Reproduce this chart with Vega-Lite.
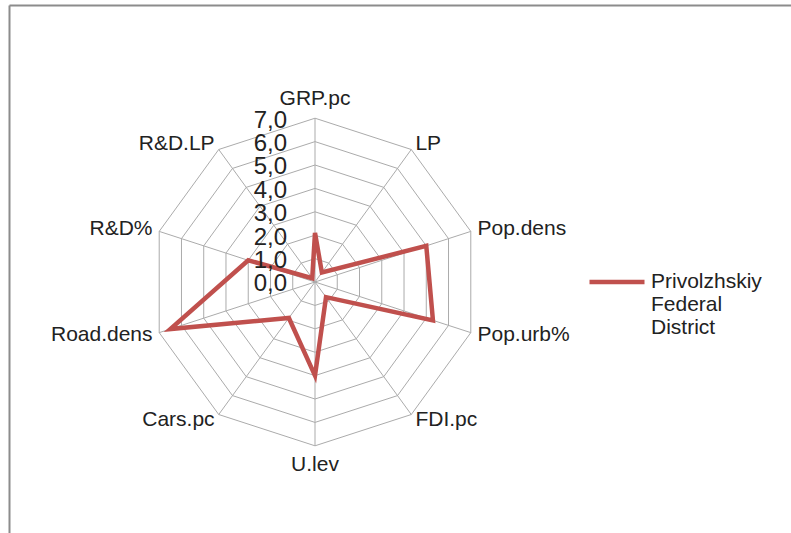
{
  "$schema": "https://vega.github.io/schema/vega-lite/v6.json",
  "width": 782,
  "height": 528,
  "autosize": {"type": "none"},
  "padding": {"left": 9, "top": 5, "right": 0, "bottom": 0},
  "background": "white",
  "config": {"view": {"stroke": null}, "font": "Liberation Sans"},
  "datasets": {
    "main": [
      {"axis": "GRP.pc", "i": 0, "value": 2.1, "series": "Privolzhskiy Federal District"},
      {"axis": "LP", "i": 1, "value": 0.5, "series": "Privolzhskiy Federal District"},
      {"axis": "Pop.dens", "i": 2, "value": 5.0, "series": "Privolzhskiy Federal District"},
      {"axis": "Pop.urb%", "i": 3, "value": 5.3, "series": "Privolzhskiy Federal District"},
      {"axis": "FDI.pc", "i": 4, "value": 0.8, "series": "Privolzhskiy Federal District"},
      {"axis": "U.lev", "i": 5, "value": 4.0, "series": "Privolzhskiy Federal District"},
      {"axis": "Cars.pc", "i": 6, "value": 1.9, "series": "Privolzhskiy Federal District"},
      {"axis": "Road.dens", "i": 7, "value": 6.5, "series": "Privolzhskiy Federal District"},
      {"axis": "R&D%", "i": 8, "value": 3.0, "series": "Privolzhskiy Federal District"},
      {"axis": "R&D.LP", "i": 9, "value": 0.2, "series": "Privolzhskiy Federal District"}
    ],
    "ticks": [
      {"v": 0, "label": "0,0"}, {"v": 1, "label": "1,0"}, {"v": 2, "label": "2,0"}, {"v": 3, "label": "3,0"},
      {"v": 4, "label": "4,0"}, {"v": 5, "label": "5,0"}, {"v": 6, "label": "6,0"}, {"v": 7, "label": "7,0"}
    ],
    "rings": [
      {"level": 1, "i": 0}, {"level": 1, "i": 1}, {"level": 1, "i": 2}, {"level": 1, "i": 3}, {"level": 1, "i": 4}, {"level": 1, "i": 5}, {"level": 1, "i": 6}, {"level": 1, "i": 7}, {"level": 1, "i": 8}, {"level": 1, "i": 9},
      {"level": 2, "i": 0}, {"level": 2, "i": 1}, {"level": 2, "i": 2}, {"level": 2, "i": 3}, {"level": 2, "i": 4}, {"level": 2, "i": 5}, {"level": 2, "i": 6}, {"level": 2, "i": 7}, {"level": 2, "i": 8}, {"level": 2, "i": 9},
      {"level": 3, "i": 0}, {"level": 3, "i": 1}, {"level": 3, "i": 2}, {"level": 3, "i": 3}, {"level": 3, "i": 4}, {"level": 3, "i": 5}, {"level": 3, "i": 6}, {"level": 3, "i": 7}, {"level": 3, "i": 8}, {"level": 3, "i": 9},
      {"level": 4, "i": 0}, {"level": 4, "i": 1}, {"level": 4, "i": 2}, {"level": 4, "i": 3}, {"level": 4, "i": 4}, {"level": 4, "i": 5}, {"level": 4, "i": 6}, {"level": 4, "i": 7}, {"level": 4, "i": 8}, {"level": 4, "i": 9},
      {"level": 5, "i": 0}, {"level": 5, "i": 1}, {"level": 5, "i": 2}, {"level": 5, "i": 3}, {"level": 5, "i": 4}, {"level": 5, "i": 5}, {"level": 5, "i": 6}, {"level": 5, "i": 7}, {"level": 5, "i": 8}, {"level": 5, "i": 9},
      {"level": 6, "i": 0}, {"level": 6, "i": 1}, {"level": 6, "i": 2}, {"level": 6, "i": 3}, {"level": 6, "i": 4}, {"level": 6, "i": 5}, {"level": 6, "i": 6}, {"level": 6, "i": 7}, {"level": 6, "i": 8}, {"level": 6, "i": 9},
      {"level": 7, "i": 0}, {"level": 7, "i": 1}, {"level": 7, "i": 2}, {"level": 7, "i": 3}, {"level": 7, "i": 4}, {"level": 7, "i": 5}, {"level": 7, "i": 6}, {"level": 7, "i": 7}, {"level": 7, "i": 8}, {"level": 7, "i": 9}
    ]
  },
  "encoding": {
    "x": {"field": "px", "type": "quantitative", "scale": {"domain": [-13.077, 20.342], "nice": false, "zero": false},
      "axis": {"orient": "top", "domain": true, "domainColor": "#8c8c8c", "domainWidth": 2, "ticks": false, "labels": false, "grid": false, "title": null}},
    "y": {"field": "py", "type": "quantitative", "scale": {"domain": [-10.726, 11.838], "nice": false, "zero": false},
      "axis": {"orient": "left", "domain": true, "domainColor": "#8c8c8c", "domainWidth": 2, "ticks": false, "labels": false, "grid": false, "title": null}}
  },
  "layer": [
    {
      "data": {"name": "rings"},
      "transform": [
        {"calculate": "datum.i * PI / 5", "as": "a"},
        {"calculate": "datum.level * sin(datum.a)", "as": "px"},
        {"calculate": "datum.level * cos(datum.a)", "as": "py"}
      ],
      "mark": {"type": "line", "interpolate": "linear-closed", "stroke": "#ababab", "strokeWidth": 1},
      "encoding": {"detail": {"field": "level"}, "order": {"field": "i", "type": "quantitative"}}
    },
    {
      "data": {"name": "rings"},
      "transform": [
        {"filter": "datum.level == 7"},
        {"calculate": "datum.i * PI / 5", "as": "a"},
        {"calculate": "datum.level * sin(datum.a)", "as": "px"},
        {"calculate": "datum.level * cos(datum.a)", "as": "py"}
      ],
      "mark": {"type": "rule", "stroke": "#ababab", "strokeWidth": 1},
      "encoding": {"x2": {"datum": 0}, "y2": {"datum": 0}}
    },
    {
      "data": {"name": "main"},
      "transform": [
        {"calculate": "datum.i * PI / 5", "as": "a"},
        {"calculate": "datum.value * sin(datum.a)", "as": "px"},
        {"calculate": "datum.value * cos(datum.a)", "as": "py"}
      ],
      "mark": {"type": "line", "interpolate": "linear-closed", "strokeWidth": 4.5, "strokeJoin": "miter"},
      "encoding": {
        "order": {"field": "i", "type": "quantitative"},
        "color": {"field": "series", "type": "nominal", "scale": {"range": ["#C0504D"]},
          "legend": {"orient": "none", "legendX": 578, "legendY": 247, "title": null, "symbolType": "stroke", "symbolSize": 3025, "symbolStrokeWidth": 4.5,
            "labelFont": "Liberation Sans", "labelFontSize": 21, "labelColor": "#222222", "labelExpr": "split(datum.label, ' ')", "labelOffset": 4, "labelLimit": 300, "padding": 0}}
      }
    },
    {
      "data": {"name": "ticks"},
      "transform": [
        {"calculate": "0", "as": "px"},
        {"calculate": "datum.v", "as": "py"}
      ],
      "mark": {"type": "text", "align": "right", "baseline": "middle", "dx": -28, "dy": 2.4, "fontSize": 24, "font": "Liberation Sans", "color": "#222222"},
      "encoding": {"text": {"field": "label"}}
    },
    {
      "data": {"name": "main"},
      "transform": [
        {"filter": "datum.i == 0 || datum.i == 5"},
        {"calculate": "datum.i * PI / 5", "as": "a"},
        {"calculate": "7.8 * sin(datum.a)", "as": "px"},
        {"calculate": "7.8 * cos(datum.a)", "as": "py"}
      ],
      "mark": {"type": "text", "align": "center", "baseline": "middle", "fontSize": 21, "font": "Liberation Sans", "color": "#222222"},
      "encoding": {"text": {"field": "axis"}}
    },
    {
      "data": {"name": "main"},
      "transform": [
        {"filter": "datum.i >= 1 && datum.i <= 4"},
        {"calculate": "datum.i * PI / 5", "as": "a"},
        {"calculate": "7.3 * sin(datum.a)", "as": "px"},
        {"calculate": "7.3 * cos(datum.a)", "as": "py"}
      ],
      "mark": {"type": "text", "align": "left", "baseline": "middle", "fontSize": 21, "font": "Liberation Sans", "color": "#222222"},
      "encoding": {"text": {"field": "axis"}}
    },
    {
      "data": {"name": "main"},
      "transform": [
        {"filter": "datum.i >= 6"},
        {"calculate": "datum.i * PI / 5", "as": "a"},
        {"calculate": "7.3 * sin(datum.a)", "as": "px"},
        {"calculate": "7.3 * cos(datum.a)", "as": "py"}
      ],
      "mark": {"type": "text", "align": "right", "baseline": "middle", "fontSize": 21, "font": "Liberation Sans", "color": "#222222"},
      "encoding": {"text": {"field": "axis"}}
    }
  ]
}
